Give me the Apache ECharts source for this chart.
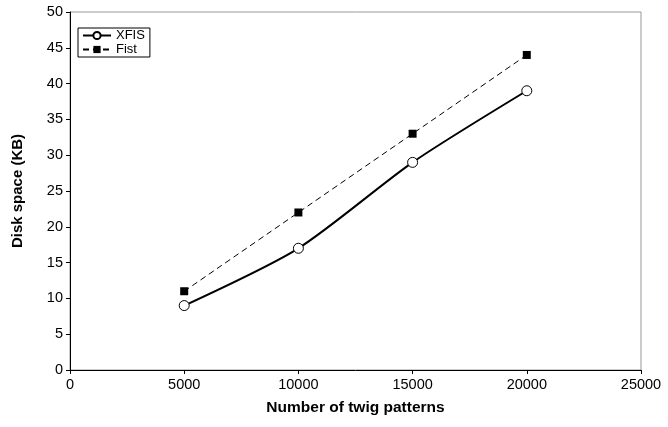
<!DOCTYPE html>
<html>
<head>
<meta charset="utf-8">
<script src="https://cdn.jsdelivr.net/npm/echarts@6/dist/echarts.min.js"></script>
<style>
  html, body { margin: 0; padding: 0; background: #fff; }
  #chart { width: 668px; height: 427px; }
</style>
</head>
<body>
<div id="chart"></div>
<script>
// 横轴：twig pattern 数量
var patterns = [5000, 10000, 15000, 20000]
var xfisSpace = [9, 17, 29, 39]
var fistSpace = [11, 22, 33, 44]

var myChart = echarts.init(document.getElementById('chart'))

function pairs (ys) {
  return patterns.map(function (x, i) { return [x, ys[i]] })
}

myChart.setOption({
  animation: false,
  textStyle: { fontFamily: 'Liberation Sans, Arial, sans-serif' },
  grid: {
    left: 70,
    right: 27,
    top: 12,
    bottom: 57,
    show: true,
    borderColor: '#999',
    borderWidth: 1
  },
  legend: {
    data: ['XFIS', 'Fist'],
    orient: 'vertical',
    left: 78,
    top: 28,
    itemWidth: 28,
    itemHeight: 9,
    itemGap: 1,
    padding: [1, 5, 1, 4],
    borderColor: '#000',
    borderWidth: 1,
    textStyle: { fontSize: 13, color: '#000', padding: [0, 0, 0, 0] }
  },
  xAxis: {
    type: 'value',
    min: 0,
    max: 25000,
    interval: 5000,
    name: 'Number of twig patterns',
    nameLocation: 'middle',
    nameGap: 30,
    nameTextStyle: { fontSize: 15.5, fontWeight: 'bold', color: '#000' },
    axisLine: { lineStyle: { color: '#000', width: 1 } },
    axisTick: { show: true, length: 4, lineStyle: { color: '#000' } },
    axisLabel: { fontSize: 14.5, color: '#000', margin: 7, formatter: function (v) { return String(v) } },
    splitLine: { show: false }
  },
  yAxis: {
    type: 'value',
    min: 0,
    max: 50,
    interval: 5,
    name: 'Disk space (KB)',
    nameLocation: 'middle',
    nameGap: 45,
    nameTextStyle: { fontSize: 15, fontWeight: 'bold', color: '#000' },
    axisLine: { show: true, lineStyle: { color: '#000', width: 1 } },
    axisTick: { show: true, length: 4, lineStyle: { color: '#000' } },
    axisLabel: { fontSize: 14.5, color: '#000', margin: 7 },
    splitLine: { show: false }
  },
  series: [
    {
      name: 'XFIS',
      type: 'line',
      data: pairs(xfisSpace),
      smooth: 0.25,
      symbol: 'circle',
      symbolSize: 10,
      lineStyle: { color: '#000', width: 2 },
      itemStyle: { color: '#fff', borderColor: '#000', borderWidth: 1 }
    },
    {
      name: 'Fist',
      type: 'line',
      data: pairs(fistSpace),
      smooth: 0.2,
      symbol: 'rect',
      symbolSize: 8,
      lineStyle: { color: '#000', width: 1, type: [6, 4] },
      itemStyle: { color: '#000' }
    }
  ]
})
</script>
</body>
</html>
